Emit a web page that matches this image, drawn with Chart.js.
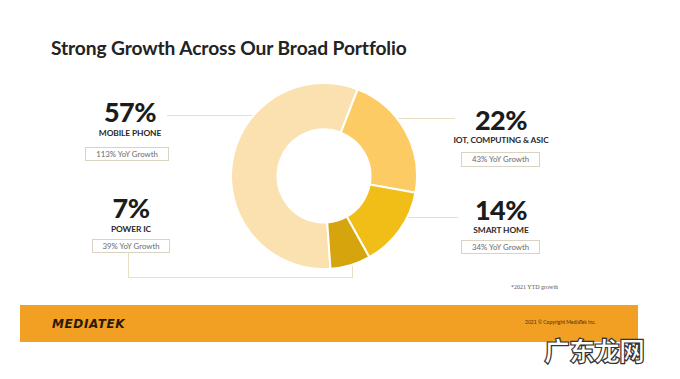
<!DOCTYPE html>
<html>
<head>
<meta charset="utf-8">
<script src="https://cdn.jsdelivr.net/npm/chart.js@4.4.1/dist/chart.umd.min.js"></script>
<style>
  html, body { margin:0; padding:0; background:#fff; }
  body { width:680px; height:379px; position:relative; overflow:hidden; font-family: Lato, "Open Sans", sans-serif; }
  .abs { position:absolute; }
  #title { left:51px; top:36px; font-size:19.2px; font-weight:700; color:#232323; white-space:nowrap; letter-spacing:-0.1px; }
  .pct { font-weight:900; color:#1c1c1c; font-size:27px; line-height:27px; text-align:center; width:120px; letter-spacing:-0.5px; }
  .cat { font-weight:700; color:#2a2a2a; font-size:8.4px; line-height:9px; text-align:center; width:140px; white-space:nowrap; letter-spacing:-0.1px; }
  .box { border:1px solid #d9d3c2; color:#6a6a6a; font-size:7.8px; line-height:12px; text-align:center; background:#fff; white-space:nowrap; box-sizing:border-box; }
  .ln { background:#eadfc6; }
  #band { left:20px; top:305px; width:618px; height:37px; background:#F1A024; }
  #logo { left:52px; top:317px; font-size:12px; font-weight:900; font-style:italic; color:#2b1a06; letter-spacing:0.6px; font-family:"DejaVu Sans", sans-serif; }
  #copy { left:525px; top:319px; font-size:5px; color:#4a3210; white-space:nowrap; }
  #note { left:511px; top:284px; font-size:6px; color:#555; white-space:nowrap; font-family:"Liberation Serif", serif; }
  #wm { left:544px; top:331px; font-size:26px; font-weight:900; color:#fff; -webkit-text-stroke:1.2px #333; font-family:"Noto Sans CJK SC", sans-serif; letter-spacing:-1px; white-space:nowrap; }
  #chartWrap { left:230px; top:82px; }
  #c { width:196px; height:188px; display:block; }
</style>
</head>
<body>
<script>
// ---- data ----
const categories = ["MOBILE PHONE", "IOT, COMPUTING & ASIC", "SMART HOME", "POWER IC"];
const shares = [57, 22, 14, 7];
const yoyGrowth = [113, 43, 34, 39];
const sliceColors = ["#FCE1B0", "#FDCB63", "#F1BE17", "#D6A40C"];
const titleText = "Strong Growth Across Our Broad Portfolio";
const footnote = "*2021 YTD growth";
</script>

<div id="title" class="abs"></div>

<!-- connector lines -->
<div class="abs ln" style="left:167px; top:115px; width:85px; height:1px;"></div>
<div class="abs ln" style="left:385px; top:118px; width:70px; height:1px;"></div>
<div class="abs ln" style="left:405px; top:217px; width:53px; height:1px;"></div>
<div class="abs ln" style="left:128px; top:253px; width:1px; height:24px;"></div>
<div class="abs ln" style="left:128px; top:277px; width:225px; height:1px;"></div>
<div class="abs ln" style="left:352px; top:266px; width:1px; height:12px;"></div>

<div id="chartWrap" class="abs"><canvas id="c" width="188" height="188"></canvas></div>

<div id="labels"></div>

<div id="note" class="abs"></div>
<div id="band" class="abs"></div>
<div id="logo" class="abs">MEDIATEK</div>
<div id="copy" class="abs">2021 © Copyright MediaTek Inc.</div>
<div id="wm" class="abs">广东龙网</div>

<script>
document.getElementById('title').textContent = titleText;
document.getElementById('note').textContent = footnote;

// label block layout (positions only)
const layout = [
  { cx: 130, pctTop: 98,  catTop: 129, box: [85, 147, 84, 14] },
  { cx: 501, pctTop: 106, catTop: 136, box: [461, 152, 79, 15] },
  { cx: 501, pctTop: 196, catTop: 226, box: [461, 240, 79, 14] },
  { cx: 131, pctTop: 194, catTop: 225, box: [92, 239, 78, 14] }
];
const host = document.getElementById('labels');
categories.forEach((cat, i) => {
  const L = layout[i];
  const p = document.createElement('div');
  p.className = 'abs pct';
  p.style.left = (L.cx - 60) + 'px';
  p.style.top = L.pctTop + 'px';
  p.textContent = shares[i] + '%';
  host.appendChild(p);
  const c = document.createElement('div');
  c.className = 'abs cat';
  c.style.left = (L.cx - 70) + 'px';
  c.style.top = L.catTop + 'px';
  c.textContent = cat;
  host.appendChild(c);
  const b = document.createElement('div');
  b.className = 'abs box';
  b.style.left = L.box[0] + 'px';
  b.style.top = L.box[1] + 'px';
  b.style.width = L.box[2] + 'px';
  b.style.height = L.box[3] + 'px';
  b.textContent = yoyGrowth[i] + '% YoY Growth';
  host.appendChild(b);
});

new Chart(document.getElementById('c'), {
  type: 'doughnut',
  data: {
    labels: categories,
    datasets: [{
      data: shares,
      backgroundColor: sliceColors,
      borderColor: '#ffffff',
      borderWidth: 2
    }]
  },
  options: {
    responsive: false,
    devicePixelRatio: 1,
    animation: false,
    rotation: 176,
    cutout: '50%',
    layout: { padding: 0 },
    plugins: { legend: { display: false }, tooltip: { enabled: false } }
  }
});
</script>
</body>
</html>
